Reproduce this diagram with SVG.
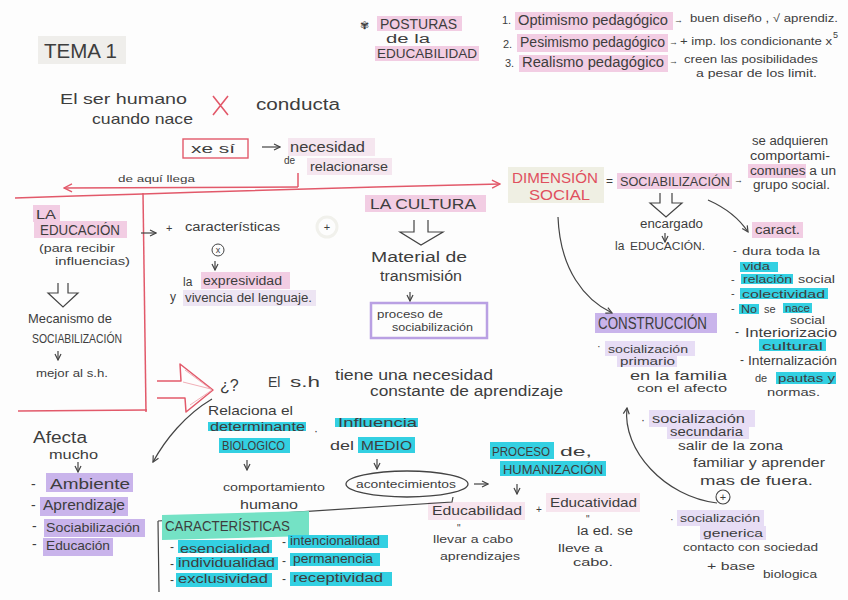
<svg xmlns="http://www.w3.org/2000/svg" width="848" height="600" viewBox="0 0 848 600">
<defs>
<style>
text{font-family:"Liberation Sans",Arial,sans-serif;fill:#3d3d3d;}
.red{fill:#e0505e;}
.hp{fill:#f2cde3;}
.hl{fill:#f5e6ef;}
.hv{fill:#c9b4eb;}
.hv2{fill:#e7ddf5;}
.hc{fill:#33d0e2;}
.ht{fill:#74e2c5;}
.ln{stroke:#444;fill:none;stroke-width:1.2;}
.rl{stroke:#e2596a;fill:none;stroke-width:1.5;}
</style>
<marker id="ah" viewBox="0 0 8 8" refX="7" refY="4" markerWidth="8" markerHeight="8" markerUnits="userSpaceOnUse" orient="auto">
<path d="M1,1 L7,4 L1,7" fill="none" stroke="#444" stroke-width="1.2"/>
</marker>
<marker id="rah" viewBox="0 0 10 10" refX="9" refY="5" markerWidth="10" markerHeight="10" markerUnits="userSpaceOnUse" orient="auto">
<path d="M1,1 L9,5 L1,9" fill="none" stroke="#e2596a" stroke-width="1.4"/>
</marker>
</defs>
<rect x="0" y="0" width="848" height="600" fill="#fdfdfd"/>

<g id="tema1">
<rect x="38" y="36" width="88" height="28" fill="#efeeeb"/>
<text x="44" y="58" font-size="20" textLength="73" lengthAdjust="spacingAndGlyphs">TEMA 1</text>
</g>

<g id="posturas">
<text x="360" y="29" font-size="11" style="font-family:'DejaVu Sans',sans-serif">✾</text>
<rect class="hp" x="377" y="16" width="85" height="15"/>
<text x="380" y="29" font-size="14" textLength="77" lengthAdjust="spacingAndGlyphs">POSTURAS</text>
<text x="386" y="43" font-size="12" textLength="44" lengthAdjust="spacingAndGlyphs">de la</text>
<rect class="hp" x="375" y="46" width="104" height="15"/>
<text x="377" y="58" font-size="13" textLength="100" lengthAdjust="spacingAndGlyphs">EDUCABILIDAD</text>
</g>

<g id="optimismo">
<text x="502" y="24" font-size="11">1.</text>
<rect class="hp" x="515" y="12" width="158" height="18"/>
<text x="518" y="25" font-size="14" textLength="150" lengthAdjust="spacingAndGlyphs">Optimismo pedagógico</text>
<text x="674" y="23" font-size="9">→</text>
<text x="690" y="22" font-size="11" textLength="148" lengthAdjust="spacingAndGlyphs">buen diseño , √ aprendiz.</text>
</g>
<g id="pesimismo">
<text x="503" y="48" font-size="11">2.</text>
<rect class="hp" x="517" y="34" width="151" height="18"/>
<text x="520" y="47" font-size="14" textLength="145" lengthAdjust="spacingAndGlyphs">Pesimismo pedagógico</text>
<text x="669" y="45" font-size="9">→</text>
<text x="680" y="45" font-size="10.5" textLength="152" lengthAdjust="spacingAndGlyphs">+ imp. los condicionante x</text>
<text x="833" y="38" font-size="9">5</text>
</g>
<g id="realismo">
<text x="505" y="67" font-size="11">3.</text>
<rect class="hp" x="519" y="55" width="149" height="17"/>
<text x="522" y="67" font-size="14" textLength="142" lengthAdjust="spacingAndGlyphs">Realismo pedagógico</text>
<text x="669" y="64" font-size="9">→</text>
<text x="684" y="63" font-size="10.5" textLength="134" lengthAdjust="spacingAndGlyphs">creen las posibilidades</text>
<text x="696" y="77" font-size="10.5" textLength="121" lengthAdjust="spacingAndGlyphs">a pesar de los limit.</text>
</g>

<g id="ser-humano">
<text x="60" y="104" font-size="15" textLength="127" lengthAdjust="spacingAndGlyphs">El ser humano</text>
<text x="92" y="124" font-size="15" textLength="101" lengthAdjust="spacingAndGlyphs">cuando nace</text>
<path d="M213,96 L228,115 M228,96 L213,115" stroke="#e2596a" stroke-width="1.6" fill="none"/>
<text x="256" y="110" font-size="16" textLength="84" lengthAdjust="spacingAndGlyphs">conducta</text>
</g>

<g id="xe-si">
<rect x="183" y="139" width="65" height="19" fill="none" stroke="#e2596a" stroke-width="1.4"/>
<text x="191" y="153" font-size="13" textLength="44" lengthAdjust="spacingAndGlyphs">xe sí</text>
</g>

<g id="necesidad">
<rect class="hl" x="288" y="138" width="87" height="18"/>
<text x="290" y="152" font-size="14" textLength="75" lengthAdjust="spacingAndGlyphs">necesidad</text>
<text x="284" y="164" font-size="10">de</text>
<rect class="hl" x="307" y="158" width="85" height="17"/>
<text x="310" y="171" font-size="13" textLength="78" lengthAdjust="spacingAndGlyphs">relacionarse</text>
</g>

<g id="de-aqui-llega">
<text x="118" y="182" font-size="9.5" textLength="77" lengthAdjust="spacingAndGlyphs">de aquí llega</text>
</g>

<g id="dimension-social">
<rect x="508" y="167" width="96" height="36" fill="#efefe3"/>
<text class="red" x="512" y="183" font-size="15" textLength="86" lengthAdjust="spacingAndGlyphs">DIMENSIÓN</text>
<text class="red" x="529" y="200" font-size="15" textLength="61" lengthAdjust="spacingAndGlyphs">SOCIAL</text>
</g>

<g id="sociabilizacion">
<text x="606" y="185" font-size="12">=</text>
<rect class="hp" x="617" y="173" width="115" height="16"/>
<text x="620" y="186" font-size="13" textLength="110" lengthAdjust="spacingAndGlyphs">SOCIABILIZACIÓN</text>
<text x="734" y="183" font-size="9">→</text>
</g>

<g id="se-adquieren">
<text x="752" y="145" font-size="12" textLength="76" lengthAdjust="spacingAndGlyphs">se adquieren</text>
<text x="750" y="160" font-size="12" textLength="80" lengthAdjust="spacingAndGlyphs">comportami-</text>
<rect class="hp" x="748" y="164" width="58" height="14"/>
<text x="750" y="175" font-size="12" textLength="86" lengthAdjust="spacingAndGlyphs">comunes a un</text>
<text x="753" y="189" font-size="12" textLength="77" lengthAdjust="spacingAndGlyphs">grupo social.</text>
</g>

<g id="encargado">
<path class="ln" d="M660,193 V203 H650 L666,217 L682,203 H672 V193"/>
<text x="640" y="228" font-size="12" textLength="63" lengthAdjust="spacingAndGlyphs">encargado</text>
<text x="615" y="250" font-size="12">la</text>
<text x="630" y="250" font-size="10" textLength="75" lengthAdjust="spacingAndGlyphs">EDUCACIÓN.</text>
</g>

<g id="caract">
<rect class="hp" x="752" y="222" width="51" height="16"/>
<text x="755" y="234" font-size="12" textLength="45" lengthAdjust="spacingAndGlyphs">caract.</text>
<text x="733" y="254" font-size="11">-</text>
<text x="742" y="255" font-size="11.5" textLength="78" lengthAdjust="spacingAndGlyphs">dura toda la</text>
<rect class="hc" x="740" y="262" width="38" height="10"/>
<text x="743" y="270" font-size="11" textLength="27" lengthAdjust="spacingAndGlyphs">vida</text>
<text x="731" y="283" font-size="11">-</text>
<rect class="hc" x="741" y="274" width="52" height="10"/>
<text x="743" y="283" font-size="11" textLength="49" lengthAdjust="spacingAndGlyphs">relación</text>
<text x="798" y="283" font-size="11" textLength="37" lengthAdjust="spacingAndGlyphs">social</text>
<text x="731" y="297" font-size="11">-</text>
<rect class="hc" x="740" y="288" width="88" height="11"/>
<text x="742" y="298" font-size="11" textLength="83" lengthAdjust="spacingAndGlyphs">colectividad</text>
<text x="731" y="312" font-size="11">-</text>
<rect class="hc" x="739" y="304" width="20" height="10"/>
<text x="741" y="313" font-size="11" textLength="16" lengthAdjust="spacingAndGlyphs">No</text>
<text x="764" y="313" font-size="11">se</text>
<rect class="hc" x="783" y="303" width="29" height="10"/>
<text x="785" y="312" font-size="11" textLength="25" lengthAdjust="spacingAndGlyphs">nace</text>
<text x="790" y="324" font-size="11" textLength="35" lengthAdjust="spacingAndGlyphs">social</text>
<text x="735" y="336" font-size="12">-</text>
<text x="745" y="337" font-size="12" textLength="92" lengthAdjust="spacingAndGlyphs">Interiorizacio</text>
<rect class="hc" x="759" y="339" width="67" height="12"/>
<text x="762" y="350" font-size="11" textLength="61" lengthAdjust="spacingAndGlyphs">cultural</text>
<text x="740" y="364" font-size="12">-</text>
<text x="748" y="365" font-size="12" textLength="89" lengthAdjust="spacingAndGlyphs">Internalización</text>
<text x="755" y="382" font-size="11">de</text>
<rect class="hc" x="776" y="372" width="60" height="12"/>
<text x="778" y="382" font-size="11" textLength="57" lengthAdjust="spacingAndGlyphs">pautas y</text>
<text x="767" y="396" font-size="11" textLength="53" lengthAdjust="spacingAndGlyphs">normas.</text>
</g>

<g id="construccion">
<rect class="hv" x="595" y="313" width="122" height="20"/>
<text x="598" y="329" font-size="16" textLength="109" lengthAdjust="spacingAndGlyphs">CONSTRUCCIÓN</text>
</g>

<g id="socializacion-primaria">
<text x="597" y="350" font-size="11">·</text>
<rect class="hv2" x="605" y="341" width="90" height="15"/>
<text x="608" y="353" font-size="11.5" textLength="80" lengthAdjust="spacingAndGlyphs">socialización</text>
<rect class="hv2" x="617" y="356" width="60" height="11"/>
<text x="620" y="365" font-size="11" textLength="55" lengthAdjust="spacingAndGlyphs">primario</text>
<text x="630" y="380" font-size="12" textLength="97" lengthAdjust="spacingAndGlyphs">en la familia</text>
<text x="637" y="392" font-size="11.5" textLength="90" lengthAdjust="spacingAndGlyphs">con el afecto</text>
</g>

<g id="socializacion-secundaria">
<text x="641" y="424" font-size="12">·</text>
<rect class="hv2" x="649" y="410" width="106" height="17"/>
<text x="652" y="423" font-size="12" textLength="93" lengthAdjust="spacingAndGlyphs">socialización</text>
<rect class="hv2" x="667" y="426" width="82" height="13"/>
<text x="670" y="436" font-size="12" textLength="73" lengthAdjust="spacingAndGlyphs">secundaria</text>
<text x="678" y="450" font-size="12" textLength="105" lengthAdjust="spacingAndGlyphs">salir de la zona</text>
<text x="693" y="467" font-size="12.5" textLength="132" lengthAdjust="spacingAndGlyphs">familiar y aprender</text>
<text x="700" y="485" font-size="12.5" textLength="113" lengthAdjust="spacingAndGlyphs">mas de fuera.</text>
<circle cx="723" cy="497" r="7" fill="none" stroke="#444" stroke-width="1.1"/>
<text x="723" y="501" font-size="11" text-anchor="middle">+</text>
</g>

<g id="socializacion-generica">
<text x="670" y="523" font-size="11">·</text>
<rect class="hv2" x="677" y="510" width="87" height="16"/>
<text x="680" y="522" font-size="11.5" textLength="80" lengthAdjust="spacingAndGlyphs">socialización</text>
<rect class="hv2" x="700" y="526" width="66" height="14"/>
<text x="703" y="537" font-size="11.5" textLength="60" lengthAdjust="spacingAndGlyphs">generica</text>
<text x="683" y="551" font-size="11.5" textLength="135" lengthAdjust="spacingAndGlyphs">contacto con sociedad</text>
<text x="707" y="570" font-size="11.5" textLength="48" lengthAdjust="spacingAndGlyphs">+ base</text>
<text x="763" y="578" font-size="11" textLength="54" lengthAdjust="spacingAndGlyphs">biologica</text>
</g>

<g id="la-educacion">
<rect class="hp" x="33" y="205" width="27" height="17"/>
<text x="36" y="219" font-size="13" textLength="20" lengthAdjust="spacingAndGlyphs">LA</text>
<rect class="hp" x="34" y="221" width="93" height="17"/>
<text x="40" y="235" font-size="14" textLength="80" lengthAdjust="spacingAndGlyphs">EDUCACIÓN</text>
<text x="39" y="252" font-size="10.5" textLength="76" lengthAdjust="spacingAndGlyphs">(para recibir</text>
<text x="55" y="265" font-size="10.5" textLength="75" lengthAdjust="spacingAndGlyphs">influencias)</text>
<path class="ln" d="M58,283 V293 H48 L63,307 L78,293 H68 V283"/>
<text x="28" y="323" font-size="13" textLength="84" lengthAdjust="spacingAndGlyphs">Mecanismo de</text>
<text x="32" y="343" font-size="12" textLength="90" lengthAdjust="spacingAndGlyphs">SOCIABILIZACIÓN</text>
<text x="36" y="377" font-size="11" textLength="72" lengthAdjust="spacingAndGlyphs">mejor al s.h.</text>
</g>

<g id="caracteristicas-lenguaje">
<text x="166" y="232" font-size="11">+</text>
<text x="185" y="231" font-size="12" textLength="95" lengthAdjust="spacingAndGlyphs">características</text>
<circle cx="218" cy="250" r="6" fill="none" stroke="#444" stroke-width="1"/>
<text x="218" y="253" font-size="9" text-anchor="middle">x</text>
<text x="183" y="286" font-size="12">la</text>
<rect class="hp" x="201" y="272" width="89" height="17"/>
<text x="203" y="285" font-size="12.5" textLength="79" lengthAdjust="spacingAndGlyphs">expresividad</text>
<text x="170" y="301" font-size="12">y</text>
<rect fill="#ede5f3" x="183" y="290" width="133" height="16"/>
<text x="185" y="302" font-size="12.5" textLength="127" lengthAdjust="spacingAndGlyphs">vivencia del lenguaje.</text>
</g>

<g id="mas">
<circle cx="327" cy="227" r="10" fill="none" stroke="#f1f1ec" stroke-width="3"/>
<text x="327" y="231" font-size="11" text-anchor="middle">+</text>
</g>

<g id="la-cultura">
<rect class="hp" x="365" y="195" width="121" height="17"/>
<text x="370" y="209" font-size="14" textLength="106" lengthAdjust="spacingAndGlyphs">LA CULTURA</text>
<path class="ln" d="M414,220 V232 H400 L421,245 L443,232 H428 V220"/>
<text x="371" y="262" font-size="14" textLength="96" lengthAdjust="spacingAndGlyphs">Material de</text>
<text x="380" y="281" font-size="14" textLength="82" lengthAdjust="spacingAndGlyphs">transmisión</text>
</g>

<g id="proceso-sociabilizacion">
<rect x="371" y="303" width="116" height="35" fill="none" stroke="#b9a0e3" stroke-width="2.5"/>
<text x="377" y="318" font-size="11" textLength="66" lengthAdjust="spacingAndGlyphs">proceso de</text>
<text x="392" y="331" font-size="11" textLength="81" lengthAdjust="spacingAndGlyphs">sociabilización</text>
</g>

<g id="pregunta">
<path d="M157,381 H181 L180,364 L213,390 L186,412 L185,398 H157" fill="none" stroke="#e2596a" stroke-width="1.5" stroke-linejoin="round"/>
<path d="M185,370 L212,390 M190,405 L212,390 M183,382 L211,389" fill="none" stroke="#ee9aa4" stroke-width="0.8"/>
<text x="220" y="391" font-size="16">¿?</text>
<text x="268" y="387" font-size="14">El</text>
<text x="290" y="387" font-size="14" textLength="30" lengthAdjust="spacingAndGlyphs">s.h</text>
<text x="335" y="380" font-size="14" textLength="158" lengthAdjust="spacingAndGlyphs">tiene una necesidad</text>
<text x="370" y="396" font-size="14" textLength="193" lengthAdjust="spacingAndGlyphs">constante de aprendizaje</text>
</g>

<g id="determinante-biologico">
<text x="208" y="415" font-size="13" textLength="85" lengthAdjust="spacingAndGlyphs">Relaciona el</text>
<rect class="hc" x="208" y="422" width="98" height="9"/>
<text x="210" y="431" font-size="12.5" textLength="95" lengthAdjust="spacingAndGlyphs">determinante</text>
<rect class="hc" x="219" y="438" width="71" height="15"/>
<text x="222" y="450" font-size="12" textLength="63" lengthAdjust="spacingAndGlyphs">BIOLOGICO</text>
<text x="314" y="435" font-size="12">·</text>
</g>

<g id="influencia-medio">
<rect class="hc" x="335" y="418" width="83" height="9"/>
<text x="338" y="427" font-size="13" textLength="79" lengthAdjust="spacingAndGlyphs">Influencia</text>
<text x="330" y="450" font-size="12" textLength="24" lengthAdjust="spacingAndGlyphs">del</text>
<rect class="hc" x="358" y="437" width="57" height="16"/>
<text x="361" y="450" font-size="12" textLength="51" lengthAdjust="spacingAndGlyphs">MEDIO</text>
</g>

<g id="comportamiento-humano">
<text x="223" y="491" font-size="11.5" textLength="102" lengthAdjust="spacingAndGlyphs">comportamiento</text>
<text x="240" y="509" font-size="12" textLength="58" lengthAdjust="spacingAndGlyphs">humano</text>
</g>

<g id="acontecimientos">
<ellipse cx="407" cy="484" rx="61" ry="13" fill="none" stroke="#444" stroke-width="1.3"/>
<text x="356" y="488" font-size="11" textLength="100" lengthAdjust="spacingAndGlyphs">acontecimientos</text>
</g>

<g id="proceso-humanizacion">
<rect class="hc" x="490" y="442" width="64" height="17"/>
<text x="492" y="456" font-size="13" textLength="58" lengthAdjust="spacingAndGlyphs">PROCESO</text>
<text x="560" y="456" font-size="12" textLength="32" lengthAdjust="spacingAndGlyphs">de,</text>
<rect class="hc" x="500" y="461" width="106" height="15"/>
<text x="503" y="474" font-size="13" textLength="100" lengthAdjust="spacingAndGlyphs">HUMANIZACIÓN</text>
</g>

<g id="educabilidad">
<rect fill="#f7e5ee" x="428" y="502" width="97" height="18"/>
<text x="432" y="515" font-size="13" textLength="90" lengthAdjust="spacingAndGlyphs">Educabilidad</text>
<text x="457" y="532" font-size="10">"</text>
<text x="433" y="543" font-size="11.5" textLength="80" lengthAdjust="spacingAndGlyphs">llevar a cabo</text>
<text x="440" y="560" font-size="11.5" textLength="80" lengthAdjust="spacingAndGlyphs">aprendizajes</text>
<text x="536" y="513" font-size="10">+</text>
</g>

<g id="educatividad">
<rect fill="#f7e5ee" x="546" y="493" width="94" height="19"/>
<text x="550" y="507" font-size="13" textLength="87" lengthAdjust="spacingAndGlyphs">Educatividad</text>
<text x="586" y="523" font-size="10">"</text>
<text x="577" y="535" font-size="12" textLength="56" lengthAdjust="spacingAndGlyphs">la ed. se</text>
<text x="558" y="552" font-size="11" textLength="45" lengthAdjust="spacingAndGlyphs">lleve a</text>
<text x="573" y="566" font-size="11" textLength="40" lengthAdjust="spacingAndGlyphs">cabo.</text>
</g>

<g id="afecta">
<text x="33" y="443" font-size="16" textLength="54" lengthAdjust="spacingAndGlyphs">Afecta</text>
<text x="49" y="459" font-size="13" textLength="49" lengthAdjust="spacingAndGlyphs">mucho</text>
<rect class="hv" x="46" y="473" width="87" height="19"/>
<text x="31" y="489" font-size="14">-</text>
<text x="50" y="489" font-size="15" textLength="80" lengthAdjust="spacingAndGlyphs">Ambiente</text>
<rect class="hv" x="40" y="497" width="88" height="19"/>
<text x="31" y="510" font-size="14">-</text>
<text x="43" y="510" font-size="14" textLength="82" lengthAdjust="spacingAndGlyphs">Aprendizaje</text>
<rect class="hv" x="44" y="519" width="101" height="18"/>
<text x="32" y="531" font-size="14">-</text>
<text x="46" y="532" font-size="13" textLength="94" lengthAdjust="spacingAndGlyphs">Sociabilización</text>
<rect class="hv" x="43" y="538" width="70" height="18"/>
<text x="32" y="549" font-size="14">-</text>
<text x="46" y="550" font-size="13" textLength="64" lengthAdjust="spacingAndGlyphs">Educación</text>
</g>

<g id="caracteristicas">
<path class="ln" d="M158,521 L452,502 L453,497 M158,521 L159,592"/>
<polygon class="ht" points="162,515 309,511 309,536 162,540"/>
<text x="165" y="531" font-size="14" textLength="125" lengthAdjust="spacingAndGlyphs">CARACTERÍSTICAS</text>
<text x="170" y="551" font-size="12">-</text>
<rect class="hc" x="178" y="540" width="94" height="13"/>
<text x="180" y="553" font-size="12" textLength="90" lengthAdjust="spacingAndGlyphs">esencialidad</text>
<text x="282" y="546" font-size="12">-</text>
<rect class="hc" x="288" y="535" width="100" height="13"/>
<text x="290" y="545" font-size="12" textLength="90" lengthAdjust="spacingAndGlyphs">intencionalidad</text>
<text x="170" y="568" font-size="12">-</text>
<rect class="hc" x="176" y="557" width="102" height="13"/>
<text x="178" y="567" font-size="12" textLength="97" lengthAdjust="spacingAndGlyphs">individualidad</text>
<text x="282" y="565" font-size="12">-</text>
<rect class="hc" x="290" y="553" width="90" height="13"/>
<text x="293" y="563" font-size="12" textLength="80" lengthAdjust="spacingAndGlyphs">permanencia</text>
<text x="170" y="584" font-size="12">-</text>
<rect class="hc" x="176" y="573" width="96" height="14"/>
<text x="178" y="583" font-size="12" textLength="90" lengthAdjust="spacingAndGlyphs">exclusividad</text>
<text x="282" y="583" font-size="12">-</text>
<rect class="hc" x="290" y="572" width="102" height="14"/>
<text x="293" y="582" font-size="12" textLength="90" lengthAdjust="spacingAndGlyphs">receptividad</text>
</g>

<g id="connectors">
<line class="ln" x1="262" y1="147" x2="280" y2="147" marker-end="url(#ah)"/>
<path class="rl" d="M298,173 L298,187"/>
<path class="rl" d="M298,187 L64,188" marker-end="url(#rah)"/>
<path class="rl" d="M15,198 Q250,190 500,184" marker-end="url(#rah)"/>
<path class="rl" d="M143,193 L146,412"/>
<path class="rl" d="M18,411 L147,410"/>
<line class="ln" x1="141" y1="233" x2="156" y2="233" marker-end="url(#ah)"/>
<line class="ln" x1="58" y1="351" x2="58" y2="360" marker-end="url(#ah)"/>
<line class="ln" x1="215" y1="261" x2="215" y2="270" marker-end="url(#ah)"/>
<line class="ln" x1="410" y1="292" x2="410" y2="301" marker-end="url(#ah)"/>
<line class="ln" x1="665" y1="233" x2="665" y2="242" marker-end="url(#ah)"/>
<path class="ln" d="M708,200 Q735,212 748,232" marker-end="url(#ah)"/>
<path class="ln" d="M558,217 C560,270 585,300 612,313" marker-end="url(#ah)"/>
<path class="ln" d="M717,503 C665,497 622,450 627,408" marker-end="url(#ah)"/>
<path class="ln" d="M212,399 C185,415 165,440 153,462" marker-end="url(#ah)"/>
<line class="ln" x1="78" y1="462" x2="78" y2="472" marker-end="url(#ah)"/>
<line class="ln" x1="247" y1="460" x2="247" y2="470" marker-end="url(#ah)"/>
<line class="ln" x1="377" y1="459" x2="377" y2="469" marker-end="url(#ah)"/>
<line class="ln" x1="474" y1="484" x2="488" y2="484" marker-end="url(#ah)"/>
<line class="ln" x1="517" y1="484" x2="517" y2="494" marker-end="url(#ah)"/>
</g>
</svg>
